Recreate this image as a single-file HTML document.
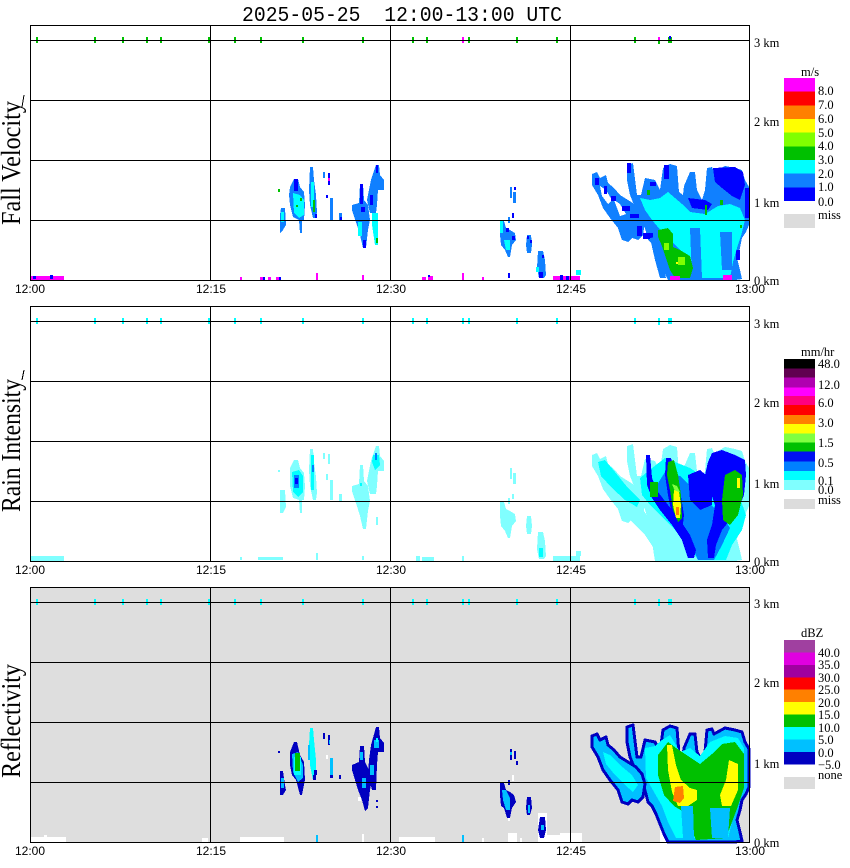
<!DOCTYPE html>
<html><head><meta charset="utf-8"><style>
html,body{margin:0;padding:0;background:#fff;}
svg{display:block;}
text{font-family:"Liberation Serif",serif;fill:#000;}
.t{font-family:"Liberation Sans",sans-serif;font-size:12px;}
.s{font-size:12.5px;}
</style></head><body>
<svg width="850" height="868" viewBox="0 0 850 868" xmlns="http://www.w3.org/2000/svg" shape-rendering="crispEdges">
<defs>
<polygon id="F1" points="627,165 633,163 637,195 641,195 645,178 655,180 660,190 663,168 670,164 677,166 679,192 683,195 684,186 690,172 695,172 697,190 702,200 705,190 707,168 712,167 714,172 725,166 735,168 742,170 745,180 749,187 749,225 746,232 742,238 740,248 737,258 740,270 742,279 735,280 668,280 664,272 660,262 656,252 652,244 648,240 646,232 643,222 640,212 634,205 630,195 627,180"/>
<polygon id="A1" points="592,174 597,172 600,178 606,175 608,183 614,188 620,195 628,200 636,205 642,212 645,222 643,235 638,240 632,238 628,242 622,240 618,228 610,218 603,208 598,195 592,185"/>
</defs>
<text x="242" y="21" xml:space="preserve" textLength="320" lengthAdjust="spacingAndGlyphs" style="font-family:'Liberation Mono',monospace;font-size:21px">2025-05-25  12:00-13:00 UTC</text>

<!-- ============ PANEL 1 ============ -->
<g>
<rect x="278" y="189" width="2" height="3" fill="#00c000"/>
<polygon fill="#1080ff" points="290,187 294,179 298,179 300,187 304,192 305,205 304,220 302,220 302,233 300,233 299,220 293,217 290,205 289,195"/>
<polygon fill="#00ffff" points="293,193 300,195 304,200 304,215 299,218 294,213"/>
<rect x="294" y="179" width="4" height="12" fill="#0000ff"/>
<rect x="300" y="198" width="2" height="3" fill="#00c000"/>
<rect x="296" y="205" width="2" height="2" fill="#00c000"/>
<polygon fill="#1080ff" points="281,208 285,208 286,225 283,230 280,233 280,215"/>
<rect x="281" y="212" width="3" height="10" fill="#00ffff"/>
<polygon fill="#1080ff" points="310,167 313,167 314,180 316,195 317,212 316,218 313,218 310,205 309,190"/>
<rect x="311" y="182" width="3" height="25" fill="#00ffff"/>
<rect x="313" y="200" width="2" height="12" fill="#00c000"/>
<rect x="315" y="214" width="2" height="4" fill="#0000ff"/>
<rect x="323" y="172" width="2" height="6" fill="#1080ff"/>
<rect x="328" y="173" width="2" height="12" fill="#0000ff"/>
<rect x="328" y="178" width="2" height="3" fill="#ff00ff"/>
<rect x="326" y="195" width="2" height="3" fill="#0000ff"/>
<rect x="330" y="198" width="3" height="22" fill="#1080ff"/>
<rect x="339" y="213" width="3" height="7" fill="#1080ff"/>
<rect x="340" y="217" width="2" height="3" fill="#0000ff"/>
<polygon fill="#1080ff" points="360,184 363,184 364,200 368,205 370,220 368,230 366,248 363,248 360,235 356,222 352,210 352,205 359,203"/>
<rect x="360" y="184" width="3" height="20" fill="#0000ff"/>
<rect x="361" y="207" width="4" height="5" fill="#0000ff"/>
<rect x="358" y="222" width="4" height="14" fill="#00ffff"/>
<rect x="363" y="240" width="3" height="8" fill="#0000ff"/>
<polygon fill="#1080ff" points="376,165 379,165 380,175 384,180 384,190 378,190 377,205 376,213 370,213 367,200 369,190 371,180"/>
<rect x="376" y="165" width="2" height="8" fill="#0000ff"/>
<rect x="370" y="195" width="3" height="10" fill="#0000ff"/>
<polygon fill="#00ffff" points="372,213 378,213 378,245 375,245 372,225"/>
<rect x="376" y="238" width="2" height="5" fill="#00c000"/>
<rect x="510" y="187" width="2" height="11" fill="#1080ff"/>
<rect x="514" y="187" width="2" height="3" fill="#0000ff"/>
<rect x="513" y="192" width="3" height="11" fill="#1080ff"/>
<rect x="512" y="213" width="2" height="5" fill="#0000ff"/>
<rect x="508" y="217" width="2" height="6" fill="#1080ff"/>
<polygon fill="#1080ff" points="500,221 504,221 506,228 510,230 515,233 516,240 512,245 510,257 508,257 505,250 501,245 500,235"/>
<rect x="500" y="221" width="3" height="12" fill="#00ffff"/>
<polygon fill="#00ffff" points="504,240 510,240 510,250 506,250"/>
<rect x="506" y="228" width="3" height="4" fill="#0000ff"/>
<rect x="512" y="236" width="3" height="4" fill="#0000ff"/>
<polygon fill="#1080ff" points="527,235 531,235 532,245 531,253 527,253 526,245"/>
<rect x="527" y="236" width="2" height="3" fill="#0000ff"/>
<rect x="530" y="240" width="2" height="3" fill="#0000ff"/>
<polygon fill="#1080ff" points="538,251 543,251 545,260 546,275 544,278 539,278 537,268"/>
<rect x="539" y="272" width="4" height="6" fill="#0000ff"/>
<rect x="536" y="267" width="3" height="5" fill="#00ffff"/>
<rect x="542" y="255" width="2" height="3" fill="#0000ff"/>
<rect x="508" y="273" width="2" height="5" fill="#0000ff"/>
<rect x="31" y="276" width="33" height="4" fill="#ff00ff"/>
<rect x="33" y="276" width="3" height="3" fill="#0000ff"/>
<rect x="50" y="275" width="3" height="4" fill="#0000ff"/>
<rect x="240" y="277" width="2" height="3" fill="#ff00ff"/>
<rect x="260" y="277" width="3" height="3" fill="#ff00ff"/>
<rect x="263" y="277" width="2" height="3" fill="#0000ff"/>
<rect x="268" y="277" width="3" height="3" fill="#ff00ff"/>
<rect x="276" y="277" width="5" height="3" fill="#ff00ff"/>
<rect x="279" y="277" width="2" height="3" fill="#0000ff"/>
<rect x="316" y="273" width="2" height="7" fill="#ff00ff"/>
<rect x="362" y="275" width="2" height="5" fill="#ff00ff"/>
<rect x="422" y="277" width="4" height="3" fill="#ff00ff"/>
<rect x="428" y="276" width="5" height="4" fill="#ff00ff"/>
<rect x="428" y="275" width="2" height="2" fill="#0000ff"/>
<rect x="462" y="273" width="2" height="7" fill="#ff00ff"/>
<rect x="482" y="277" width="2" height="3" fill="#ff00ff"/>
<rect x="553" y="276" width="27" height="4" fill="#ff00ff"/>
<rect x="560" y="275" width="3" height="5" fill="#0000ff"/>
<rect x="566" y="276" width="3" height="4" fill="#0000ff"/>
<rect x="576" y="270" width="5" height="5" fill="#00ffff"/>
<rect x="575" y="276" width="5" height="4" fill="#ff00ff"/>
<!-- right big blob -->
<use href="#F1" fill="#1080ff"/>
<use href="#A1" fill="#1080ff"/>
<polygon fill="#ffffff" points="600,186 606,190 612,200 608,204 602,196"/>
<polygon fill="#ffffff" points="614,200 620,204 626,214 620,216"/>
<rect x="595" y="178" width="4" height="7" fill="#0000ff"/>
<rect x="604" y="186" width="3" height="8" fill="#0000ff"/>
<rect x="611" y="196" width="5" height="5" fill="#0000ff"/>
<rect x="622" y="206" width="8" height="5" fill="#0000ff"/>
<rect x="630" y="214" width="9" height="4" fill="#0000ff"/>
<rect x="637" y="226" width="5" height="10" fill="#0000ff"/>
<rect x="627" y="163" width="4" height="10" fill="#0000ff"/>
<rect x="664" y="165" width="5" height="14" fill="#0000ff"/>
<polygon fill="#0000ff" points="713,168 735,167 743,172 745,185 740,200 732,196 722,188 715,182"/>
<polygon fill="#0000ff" points="688,198 705,200 712,204 708,210 692,208"/>
<rect x="745" y="188" width="4" height="30" fill="#0000ff"/>
<rect x="650" y="182" width="6" height="4" fill="#0000ff"/>
<rect x="643" y="233" width="10" height="6" fill="#0000ff"/>
<rect x="736" y="250" width="4" height="10" fill="#0000ff"/>
<polygon fill="#00ffff" points="640,198 650,200 660,198 668,192 675,198 682,204 690,212 705,214 718,206 730,204 740,208 745,220 741,236 737,248 733,262 730,278 700,278 692,268 684,254 672,242 662,232 652,220 645,210"/>
<polygon fill="#1080ff" points="690,228 700,228 702,278 692,278"/>
<polygon fill="#1080ff" points="720,232 732,232 732,270 722,270"/>
<polygon fill="#1080ff" points="650,238 660,236 662,262 666,278 660,278 655,260"/>
<polygon fill="#00c000" points="658,230 668,228 673,234 673,247 680,250 690,256 693,268 690,278 675,278 670,270 666,258 662,246 658,237"/>
<rect x="647" y="190" width="3" height="5" fill="#00c000"/>
<rect x="705" y="205" width="2" height="10" fill="#00c000"/>
<rect x="720" y="200" width="3" height="5" fill="#00c000"/>
<rect x="740" y="225" width="2" height="3" fill="#00c000"/>
<rect x="664" y="243" width="5" height="7" fill="#80ff00"/>
<rect x="678" y="257" width="7" height="8" fill="#80ff00"/>
<rect x="676" y="262" width="2" height="2" fill="#ffff00"/>
<rect x="670" y="276" width="10" height="4" fill="#ff00ff"/>
<rect x="723" y="275" width="9" height="5" fill="#ff00ff"/>
<g fill="#00c000">
<rect x="36" y="37" width="2" height="6"/><rect x="94" y="37" width="2" height="6"/><rect x="122" y="37" width="2" height="6"/><rect x="146" y="37" width="2" height="6"/><rect x="160" y="37" width="2" height="6"/><rect x="208" y="37" width="2" height="6"/><rect x="234" y="37" width="2" height="6"/><rect x="260" y="37" width="2" height="6"/><rect x="302" y="37" width="2" height="6"/><rect x="362" y="37" width="2" height="6"/><rect x="412" y="37" width="2" height="6"/><rect x="426" y="37" width="2" height="6"/><rect x="468" y="37" width="2" height="6"/><rect x="516" y="37" width="2" height="6"/><rect x="556" y="37" width="2" height="6"/><rect x="634" y="37" width="2" height="6"/><rect x="658" y="37" width="2" height="7"/><rect x="668" y="37" width="4" height="6"/>
</g>
<rect x="462" y="37" width="2" height="6" fill="#ff00ff"/>
<rect x="658" y="37" width="2" height="3" fill="#ff00ff"/>
<rect x="669" y="36" width="2" height="3" fill="#0000ff"/>
<g stroke="#000" stroke-width="1" fill="none">
<rect x="30.5" y="25.5" width="719" height="255"/>
<line x1="30" y1="40.5" x2="750" y2="40.5"/><line x1="30" y1="100.5" x2="750" y2="100.5"/><line x1="30" y1="160.5" x2="750" y2="160.5"/><line x1="30" y1="220.5" x2="750" y2="220.5"/>
<line x1="210.5" y1="25" x2="210.5" y2="281"/><line x1="390.5" y1="25" x2="390.5" y2="281"/><line x1="570.5" y1="25" x2="570.5" y2="281"/>
</g>
</g>

<!-- ============ PANEL 2 ============ -->
<g>
<rect x="278" y="470" width="2" height="2" fill="#80ffff"/>
<polygon fill="#80ffff" points="280,490 285,490 286,507 283,513 280,513"/>
<polygon fill="#80ffff" points="290,468 294,460 298,460 300,468 304,473 305,486 304,500 302,500 302,513 300,513 299,500 293,498 290,486"/>
<polygon fill="#00ffff" points="292,472 299,470 303,476 303,492 298,497 293,492"/>
<rect x="294" y="475" width="5" height="13" fill="#0080ff"/>
<rect x="295" y="478" width="3" height="6" fill="#0000ff"/>
<polygon fill="#80ffff" points="310,449 313,449 314,462 316,477 317,493 316,500 313,500 310,486 309,470"/>
<rect x="311" y="455" width="3" height="35" fill="#00ffff"/>
<rect x="312" y="465" width="2" height="7" fill="#0080ff"/>
<rect x="323" y="453" width="2" height="6" fill="#80ffff"/>
<rect x="328" y="454" width="2" height="10" fill="#80ffff"/>
<rect x="326" y="474" width="2" height="6" fill="#80ffff"/>
<rect x="330" y="480" width="3" height="20" fill="#80ffff"/>
<rect x="339" y="494" width="3" height="7" fill="#80ffff"/>
<polygon fill="#80ffff" points="360,465 363,465 364,481 368,486 370,501 368,511 366,529 363,529 360,516 356,503 352,491 352,486 359,484"/>
<rect x="360" y="483" width="2" height="3" fill="#00ffff"/>
<polygon fill="#80ffff" points="376,446 379,446 380,456 384,461 384,471 378,471 377,486 376,494 370,494 367,481 369,471 371,461"/>
<polygon fill="#00ffff" points="373,455 379,455 380,465 375,470 372,462"/>
<rect x="375" y="453" width="2" height="7" fill="#0080ff"/>
<rect x="376" y="517" width="2" height="8" fill="#80ffff"/>
<rect x="510" y="468" width="2" height="11" fill="#80ffff"/>
<rect x="513" y="473" width="3" height="11" fill="#80ffff"/>
<rect x="512" y="494" width="2" height="5" fill="#80ffff"/>
<rect x="508" y="498" width="2" height="6" fill="#80ffff"/>
<polygon fill="#80ffff" points="500,502 504,502 506,509 510,511 515,514 516,521 512,526 510,538 508,538 505,531 501,526 500,516"/>
<polygon fill="#80ffff" points="527,516 531,516 532,526 531,534 527,534 526,526"/>
<polygon fill="#80ffff" points="538,532 543,532 545,541 546,556 544,559 539,559 537,549"/>
<rect x="539" y="548" width="4" height="9" fill="#00ffff"/>
<g fill="#80ffff">
<rect x="31" y="556" width="33" height="5"/><rect x="240" y="557" width="2" height="3"/><rect x="258" y="557" width="25" height="3"/><rect x="316" y="553" width="2" height="7"/><rect x="362" y="556" width="2" height="4"/><rect x="416" y="556" width="4" height="5"/><rect x="422" y="557" width="12" height="4"/><rect x="462" y="556" width="2" height="5"/><rect x="553" y="556" width="27" height="5"/><rect x="576" y="551" width="5" height="5"/>
</g>
<g transform="translate(0,281)"><use href="#F1" fill="#80ffff"/><use href="#A1" fill="#80ffff"/></g>
<polygon fill="#80ffff" points="620,500 640,505 650,520 660,540 662,550 655,550 645,535 630,520"/>
<polygon fill="#80ffff" points="650,530 668,540 668,561 655,561"/>
<polygon fill="#00ffff" points="598,462 605,460 615,472 628,488 640,500 637,507 625,500 612,488 601,476"/>
<polygon fill="#00ffff" points="640,478 652,468 665,458 690,468 702,476 716,488 740,498 746,515 742,530 732,545 726,560 698,560 688,545 675,530 660,515 650,505 642,495"/>
<polygon fill="#0080ff" points="655,488 665,472 680,476 690,486 700,496 712,506 722,516 730,528 722,545 714,560 698,560 690,542 680,526 670,512 660,502"/>
<polygon fill="#0000ff" points="646,455 650,455 652,478 658,492 668,505 680,520 690,535 696,550 694,558 688,558 682,540 672,525 660,510 652,498 647,485"/>
<polygon fill="#0000ff" points="666,458 671,458 675,470 680,490 684,515 682,532 677,530 672,515 668,495 665,475"/>
<polygon fill="#0000ff" points="712,453 722,450 735,455 745,460 746,475 744,495 738,510 730,520 722,530 716,545 714,558 708,558 707,540 712,525 715,505 710,490 705,475 708,462"/>
<polygon fill="#0000ff" points="688,475 700,470 712,480 712,505 700,510 690,500"/>
<polygon fill="#00c000" points="668,462 674,460 678,475 681,495 682,518 678,522 673,510 670,490 667,475"/>
<polygon fill="#00c000" points="725,475 735,470 742,475 743,495 738,515 730,525 723,520 722,500"/>
<rect x="650" y="482" width="8" height="15" fill="#00c000"/>
<polygon fill="#80ff40" points="672,484 677,486 680,492 676,494"/>
<polygon fill="#ffff00" points="674,490 679,492 681,505 680,518 676,518 673,505"/>
<rect x="737" y="478" width="3" height="10" fill="#ffff00"/>
<rect x="676" y="507" width="3" height="8" fill="#ff8000"/>
<g fill="#00ffff">
<rect x="36" y="318" width="2" height="6"/><rect x="94" y="318" width="2" height="6"/><rect x="122" y="318" width="2" height="6"/><rect x="146" y="318" width="2" height="6"/><rect x="160" y="318" width="2" height="6"/><rect x="208" y="318" width="2" height="6"/><rect x="234" y="318" width="2" height="6"/><rect x="260" y="318" width="2" height="6"/><rect x="302" y="318" width="2" height="6"/><rect x="362" y="318" width="2" height="6"/><rect x="412" y="318" width="2" height="6"/><rect x="426" y="318" width="2" height="6"/><rect x="462" y="318" width="2" height="6"/><rect x="468" y="318" width="2" height="6"/><rect x="516" y="318" width="2" height="6"/><rect x="556" y="318" width="2" height="6"/><rect x="634" y="318" width="2" height="6"/><rect x="658" y="318" width="2" height="7"/><rect x="668" y="318" width="4" height="6"/>
</g>
<g stroke="#000" stroke-width="1" fill="none">
<rect x="30.5" y="306.5" width="719" height="255"/>
<line x1="30" y1="321.5" x2="750" y2="321.5"/><line x1="30" y1="381.5" x2="750" y2="381.5"/><line x1="30" y1="441.5" x2="750" y2="441.5"/><line x1="30" y1="501.5" x2="750" y2="501.5"/>
<line x1="210.5" y1="306" x2="210.5" y2="562"/><line x1="390.5" y1="306" x2="390.5" y2="562"/><line x1="570.5" y1="306" x2="570.5" y2="562"/>
</g>
</g>

<!-- ============ PANEL 3 ============ -->
<g>
<rect x="30" y="587" width="720" height="255" fill="#dedede"/>
<rect x="278" y="751" width="2" height="2" fill="#0000c0"/>
<polygon fill="#0000c0" points="280,771 283,771 285,785 286,790 283,795 280,795"/>
<rect x="281" y="778" width="3" height="10" fill="#00c0ff"/>
<polygon fill="#0000c0" points="290,752 294,742 297,742 300,755 304,762 305,780 302,795 300,795 296,780 292,775 290,765"/>
<polygon fill="#00c0ff" points="292,754 298,752 303,765 303,778 298,782 293,772"/>
<rect x="294" y="757" width="7" height="18" fill="#00ffff"/>
<rect x="295" y="753" width="5" height="18" fill="#00c000"/>
<polygon fill="#00ffff" points="310,728 313,728 314,740 316,760 316,778 313,780 310,765 309,745"/>
<rect x="308" y="745" width="2" height="15" fill="#00c0ff"/>
<rect x="314" y="770" width="3" height="5" fill="#0000c0"/>
<rect x="313" y="775" width="3" height="5" fill="#0000c0"/>
<rect x="323" y="733" width="2" height="6" fill="#0000c0"/>
<rect x="328" y="735" width="2" height="10" fill="#0000c0"/>
<rect x="329" y="740" width="1" height="4" fill="#00c0ff"/>
<rect x="326" y="755" width="2" height="4" fill="#ffffff"/>
<rect x="330" y="758" width="3" height="20" fill="#00c0ff"/>
<rect x="330" y="775" width="3" height="3" fill="#0000c0"/>
<rect x="339" y="775" width="2" height="4" fill="#0000c0"/>
<polygon fill="#0000c0" points="360,746 364,746 365,762 369,770 372,780 370,790 368,808 365,811 362,800 358,790 355,780 352,770 352,765 359,762"/>
<rect x="360" y="752" width="3" height="8" fill="#00c0ff"/>
<rect x="362" y="778" width="4" height="10" fill="#00c0ff"/>
<rect x="358" y="797" width="3" height="4" fill="#ffffff"/>
<polygon fill="#0000c0" points="376,727 379,727 380,738 384,743 384,752 378,752 377,765 376,790 372,790 368,775 369,760 371,745"/>
<rect x="374" y="740" width="5" height="8" fill="#00c0ff"/>
<rect x="376" y="738" width="2" height="4" fill="#00ffff"/>
<rect x="370" y="765" width="4" height="10" fill="#00c0ff"/>
<rect x="376" y="800" width="2" height="2" fill="#0000c0"/>
<rect x="376" y="806" width="2" height="2" fill="#0000c0"/>
<rect x="510" y="749" width="2" height="11" fill="#0000c0"/>
<rect x="510" y="752" width="2" height="3" fill="#00c0ff"/>
<rect x="514" y="751" width="2" height="8" fill="#0000c0"/>
<rect x="516" y="761" width="2" height="4" fill="#0000c0"/>
<rect x="512" y="775" width="2" height="6" fill="#ffffff"/>
<rect x="508" y="780" width="2" height="5" fill="#0000c0"/>
<polygon fill="#0000c0" points="500,783 504,783 506,790 510,792 514,795 516,802 512,808 510,818 507,818 504,808 501,806 500,795"/>
<polygon fill="#00c0ff" points="502,790 506,790 510,798 510,810 506,810 503,800"/>
<rect x="508" y="818" width="2" height="3" fill="#ffffff"/>
<polygon fill="#0000c0" points="527,797 531,797 532,808 530,815 527,815 526,808"/>
<rect x="528" y="805" width="2" height="8" fill="#00c0ff"/>
<g fill="#ffffff">
<rect x="31" y="837" width="35" height="5"/><rect x="44" y="835" width="3" height="2"/><rect x="202" y="838" width="6" height="4"/><rect x="240" y="837" width="44" height="5"/><rect x="362" y="834" width="2" height="8"/><rect x="399" y="837" width="36" height="5"/><rect x="482" y="838" width="2" height="4"/><rect x="508" y="833" width="9" height="9"/><rect x="520" y="838" width="2" height="4"/><rect x="543" y="835" width="37" height="7"/><rect x="538" y="813" width="9" height="29"/><rect x="560" y="833" width="22" height="9"/><rect x="660" y="823" width="8" height="19"/><rect x="733" y="835" width="8" height="7"/>
</g>
<rect x="316" y="835" width="2" height="7" fill="#00c0ff"/>
<rect x="462" y="835" width="2" height="7" fill="#00c0ff"/>
<polygon fill="#0000c0" points="540,817 545,817 546,830 544,838 540,838 538,830"/>
<rect x="541" y="825" width="3" height="5" fill="#00c0ff"/>
<!-- right blob -->
<g transform="translate(0,562)" stroke="#0000c0" stroke-width="3" stroke-linejoin="round"><use href="#F1" fill="#00c0ff"/><use href="#A1" fill="#00c0ff"/></g>
<polygon fill="#00ffff" points="603,752 610,755 620,765 632,775 638,785 633,792 625,785 615,775 606,764"/>
<polygon fill="#00ffff" points="645,748 655,746 662,740 670,735 680,752 690,748 700,756 710,742 725,736 738,738 744,748 744,785 738,805 732,822 728,838 676,838 668,822 662,806 654,792 646,778"/>
<polygon fill="#00c000" points="658,755 668,742 676,748 688,756 700,764 712,754 722,744 735,742 744,754 744,788 738,806 732,822 726,838 696,840 690,826 684,812 674,806 664,795 658,775"/>
<polygon fill="#00c0ff" points="681,806 693,806 694,838 683,838"/>
<polygon fill="#00c0ff" points="710,808 730,808 728,838 712,838"/>
<polygon fill="#ffff00" points="667,745 672,745 676,765 681,780 690,788 697,790 697,800 688,806 678,806 672,792 668,770"/>
<polygon fill="#ffff00" points="729,760 738,764 738,790 731,806 722,806 720,795 726,780"/>
<polygon fill="#ff8000" points="675,787 683,786 684,798 680,803 673,801"/>
<g fill="#00ffff">
<rect x="36" y="599" width="2" height="6"/><rect x="94" y="599" width="2" height="6"/><rect x="122" y="599" width="2" height="6"/><rect x="146" y="599" width="2" height="6"/><rect x="160" y="599" width="2" height="6"/><rect x="208" y="599" width="2" height="6"/><rect x="234" y="599" width="2" height="6"/><rect x="260" y="599" width="2" height="6"/><rect x="302" y="599" width="2" height="6"/><rect x="362" y="599" width="2" height="6"/><rect x="412" y="599" width="2" height="6"/><rect x="426" y="599" width="2" height="6"/><rect x="462" y="599" width="2" height="6"/><rect x="468" y="599" width="2" height="6"/><rect x="516" y="599" width="2" height="6"/><rect x="556" y="599" width="2" height="6"/><rect x="634" y="599" width="2" height="6"/><rect x="658" y="599" width="2" height="7"/><rect x="668" y="599" width="4" height="6"/>
</g>
<g stroke="#000" stroke-width="1" fill="none">
<rect x="30.5" y="587.5" width="719" height="255"/>
<line x1="30" y1="602.5" x2="750" y2="602.5"/><line x1="30" y1="662.5" x2="750" y2="662.5"/><line x1="30" y1="722.5" x2="750" y2="722.5"/><line x1="30" y1="782.5" x2="750" y2="782.5"/>
<line x1="210.5" y1="587" x2="210.5" y2="843"/><line x1="390.5" y1="587" x2="390.5" y2="843"/><line x1="570.5" y1="587" x2="570.5" y2="843"/>
</g>
</g>

<!-- y-axis labels -->
<text transform="translate(20,225) rotate(-90)" style="font-size:27px" textLength="124" lengthAdjust="spacingAndGlyphs">Fall Velocity</text>
<line x1="24" y1="95" x2="22" y2="107" stroke="#000" stroke-width="1"/>
<text transform="translate(20,512) rotate(-90)" style="font-size:27px" textLength="133" lengthAdjust="spacingAndGlyphs">Rain Intensity</text>
<line x1="24" y1="370" x2="22" y2="380" stroke="#000" stroke-width="1"/>
<text transform="translate(20,778) rotate(-90)" style="font-size:27px" textLength="114" lengthAdjust="spacingAndGlyphs">Reflectivity</text>

<g text-anchor="middle">
<text class="t" x="30" y="293">12:00</text><text class="t" x="211" y="293">12:15</text><text class="t" x="391" y="293">12:30</text><text class="t" x="571" y="293">12:45</text><text class="t" x="750" y="293">13:00</text>
<text class="t" x="30" y="574">12:00</text><text class="t" x="211" y="574">12:15</text><text class="t" x="391" y="574">12:30</text><text class="t" x="571" y="574">12:45</text><text class="t" x="750" y="574">13:00</text>
<text class="t" x="30" y="855">12:00</text><text class="t" x="211" y="855">12:15</text><text class="t" x="391" y="855">12:30</text><text class="t" x="571" y="855">12:45</text><text class="t" x="750" y="855">13:00</text>
</g>

<g>
<text class="s" x="754" y="47">3 km</text><text class="s" x="754" y="126">2 km</text><text class="s" x="754" y="207">1 km</text><text class="s" x="754" y="285">0 km</text>
<text class="s" x="754" y="328">3 km</text><text class="s" x="754" y="407">2 km</text><text class="s" x="754" y="488">1 km</text><text class="s" x="754" y="566">0 km</text>
<text class="s" x="754" y="608">3 km</text><text class="s" x="754" y="687">2 km</text><text class="s" x="754" y="768">1 km</text><text class="s" x="754" y="847">0 km</text>
</g>

<text class="s" x="801" y="76">m/s</text>
<rect x="784" y="78" width="31" height="14" fill="#ff00ff"/>
<rect x="784" y="91.7" width="31" height="14" fill="#ff0000"/>
<rect x="784" y="105.3" width="31" height="14" fill="#ff8000"/>
<rect x="784" y="119" width="31" height="14" fill="#ffff00"/>
<rect x="784" y="132.7" width="31" height="14" fill="#80ff00"/>
<rect x="784" y="146.3" width="31" height="14" fill="#00c000"/>
<rect x="784" y="160" width="31" height="14" fill="#00ffff"/>
<rect x="784" y="173.7" width="31" height="14" fill="#1080ff"/>
<rect x="784" y="187.3" width="31" height="13.7" fill="#0000ff"/>
<rect x="784" y="214" width="31" height="14" fill="#dcdcdc"/>
<text class="s" x="818" y="95">8.0</text><text class="s" x="818" y="109">7.0</text><text class="s" x="818" y="123">6.0</text><text class="s" x="818" y="137">5.0</text><text class="s" x="818" y="150">4.0</text><text class="s" x="818" y="164">3.0</text><text class="s" x="818" y="178">2.0</text><text class="s" x="818" y="191">1.0</text><text class="s" x="818" y="206">0.0</text><text class="s" x="818" y="219">miss</text>

<text class="s" x="801" y="356">mm/hr</text>
<rect x="784" y="359" width="31" height="9.5" fill="#000000"/>
<rect x="784" y="368.3" width="31" height="9.5" fill="#600050"/>
<rect x="784" y="377.3" width="31" height="10.2" fill="#b000b0"/>
<rect x="784" y="387.3" width="31" height="9" fill="#ff00ff"/>
<rect x="784" y="396" width="31" height="9.2" fill="#ff0080"/>
<rect x="784" y="405" width="31" height="10.2" fill="#ff0000"/>
<rect x="784" y="415" width="31" height="9.2" fill="#ff8000"/>
<rect x="784" y="424" width="31" height="9.5" fill="#ffff00"/>
<rect x="784" y="433.3" width="31" height="9.5" fill="#80ff40"/>
<rect x="784" y="442.7" width="31" height="9.2" fill="#00c000"/>
<rect x="784" y="451.7" width="31" height="10.2" fill="#0010f0"/>
<rect x="784" y="461.7" width="31" height="9.5" fill="#0080ff"/>
<rect x="784" y="471" width="31" height="9.2" fill="#00ffff"/>
<rect x="784" y="480" width="31" height="10" fill="#80ffff"/>
<rect x="784" y="499" width="31" height="10" fill="#dcdcdc"/>
<text class="s" x="818" y="368">48.0</text><text class="s" x="818" y="389">12.0</text><text class="s" x="818" y="407">6.0</text><text class="s" x="818" y="427">3.0</text><text class="s" x="818" y="447">1.5</text><text class="s" x="818" y="467">0.5</text><text class="s" x="818" y="485">0.1</text><text class="s" x="818" y="494">0.0</text><text class="s" x="818" y="504">miss</text>

<text class="s" x="801" y="637">dBZ</text>
<rect x="784" y="640" width="31" height="12.7" fill="#a040a0"/>
<rect x="784" y="652.4" width="31" height="12.7" fill="#e000e0"/>
<rect x="784" y="664.9" width="31" height="12.7" fill="#a000a0"/>
<rect x="784" y="677.3" width="31" height="12.7" fill="#ff0000"/>
<rect x="784" y="689.7" width="31" height="12.7" fill="#ff8000"/>
<rect x="784" y="702.2" width="31" height="12.7" fill="#ffff00"/>
<rect x="784" y="714.6" width="31" height="12.7" fill="#00c000"/>
<rect x="784" y="727" width="31" height="12.7" fill="#00ffff"/>
<rect x="784" y="739.4" width="31" height="12.7" fill="#00c0ff"/>
<rect x="784" y="751.9" width="31" height="12.4" fill="#0000c0"/>
<rect x="784" y="777" width="31" height="12" fill="#dcdcdc"/>
<text class="s" x="818" y="657">40.0</text><text class="s" x="818" y="669">35.0</text><text class="s" x="818" y="682">30.0</text><text class="s" x="818" y="694">25.0</text><text class="s" x="818" y="707">20.0</text><text class="s" x="818" y="719">15.0</text><text class="s" x="818" y="732">10.0</text><text class="s" x="818" y="744">5.0</text><text class="s" x="818" y="757">0.0</text><text class="s" x="818" y="769">−5.0</text><text class="s" x="818" y="779">none</text>
</svg>
</body></html>
